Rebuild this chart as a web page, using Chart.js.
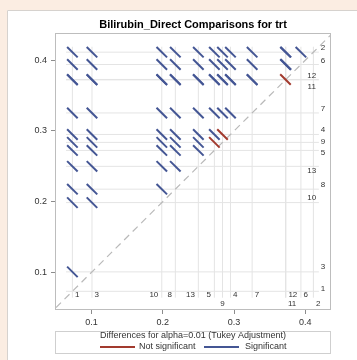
<!DOCTYPE html>
<html>
<head>
<meta charset="utf-8">
<script src="https://cdn.jsdelivr.net/npm/chart.js@4/dist/chart.umd.min.js"></script>
<style>
  html, body { margin: 0; padding: 0; background: #ffffff; }
  #wrap { width: 357px; height: 360px; }
  canvas { display: block; }
</style>
</head>
<body>
<div id="wrap"><canvas id="diffogram" width="357" height="360"></canvas></div>
<script>
// Treatment groups and their LS-means of Bilirubin_Direct
const groupNames = ['1', '2', '3', '4', '5', '6', '7', '8', '9', '10', '11', '12', '13'];
const lsMeans    = [0.0730, 0.4113, 0.1005, 0.2949, 0.2723, 0.3938, 0.3253, 0.2175, 0.2837, 0.1985, 0.3721, 0.3727, 0.2498];

// Half width of the Tukey-adjusted confidence interval for a difference
const diffCIHalfWidth = 0.0148;

// Pairs whose difference is not significant at alpha = 0.01
const notSignificantPairs = [['5', '9'], ['9', '4'], ['11', '12']];

// Axis tick values
const xTickValues = [0.1, 0.2, 0.3, 0.4];
const yTickValues = [0.1, 0.2, 0.3, 0.4];

const chartTitle = 'Bilirubin_Direct Comparisons for trt';
const legendTitle = 'Differences for alpha=0.01 (Tukey Adjustment)';
const legendLabels = ['Not significant', 'Significant'];

// Placement of the group labels along the right and bottom edges
// right: [lane, vertical nudge in px]; bottom: [alignment, row]
const rightLabelPlacement = {
  '2': [0, -4], '6': [0, -4], '12': [1, -3.5], '11': [1, 6.5], '7': [0, -4.5],
  '4': [0, -4.5], '9': [0, -1], '5': [0, 2.5], '13': [1, 4.5], '8': [0, -4.5],
  '10': [1, -4.5], '3': [0, -5], '1': [0, -3]
};
const bottomLabelPlacement = {
  '1': ['left', 0], '3': ['left', 0], '10': ['right', 0], '8': ['right', 0],
  '13': ['right', 0], '5': ['right', 0], '9': ['center', 1], '4': ['left', 0],
  '7': ['left', 0], '12': ['left', 0], '11': ['left', 1], '6': ['left', 0], '2': ['left', 1]
};

const COLORS = {
  significant: '#445694',
  notSignificant: '#A23A2E',
  refLine: '#E4E4E4',
  diagonal: '#B9B9B9',
  frame: '#BDBDBD',
  text: '#333333'
};

const X_MIN = 0.05, X_MAX = 0.4346;
const Y_MIN = 0.048, Y_MAX = 0.437;
const REF_LO = 0.064, REF_HI = 0.419;

function isNotSignificant(a, b) {
  return notSignificantPairs.some(p => (p[0] === a && p[1] === b) || (p[0] === b && p[1] === a));
}

const datasets = [];

// Reference lines at every LS-mean, vertical and horizontal
lsMeans.forEach(m => {
  datasets.push({
    data: [{ x: m, y: REF_LO }, { x: m, y: REF_HI }],
    borderColor: COLORS.refLine, borderWidth: 1, pointRadius: 0, order: 3
  });
  datasets.push({
    data: [{ x: REF_LO, y: m }, { x: REF_HI, y: m }],
    borderColor: COLORS.refLine, borderWidth: 1, pointRadius: 0, order: 3
  });
});

// Line of equality
datasets.push({
  data: [{ x: X_MIN, y: X_MIN }, { x: Y_MAX - 0.002, y: Y_MAX - 0.002 }],
  borderColor: COLORS.diagonal, borderWidth: 1.2, borderDash: [7, 5], pointRadius: 0, order: 2
});

// One segment per pair, centred at (lower mean, higher mean), slope -1
const h = diffCIHalfWidth / 2;
for (let i = 0; i < groupNames.length; i++) {
  for (let j = i + 1; j < groupNames.length; j++) {
    const lo = lsMeans[i] <= lsMeans[j] ? i : j;
    const hi = lo === i ? j : i;
    const xc = lsMeans[lo], yc = lsMeans[hi];
    const ns = isNotSignificant(groupNames[i], groupNames[j]);
    datasets.push({
      data: [{ x: xc - h, y: yc + h }, { x: xc + h, y: yc - h }],
      borderColor: ns ? COLORS.notSignificant : COLORS.significant,
      borderWidth: 2, pointRadius: 0, order: 1
    });
  }
}

const FONT = '"Liberation Sans", Arial, sans-serif';

const decorations = {
  id: 'decorations',
  beforeDraw(chart) {
    const ctx = chart.ctx;
    ctx.save();
    ctx.fillStyle = '#FBEDE2';
    ctx.fillRect(0, 0, chart.width, chart.height);
    ctx.fillStyle = '#ffffff';
    ctx.fillRect(7, 10, chart.width - 7, chart.height - 10);
    ctx.strokeStyle = '#D6D2CE';
    ctx.lineWidth = 1;
    ctx.beginPath();
    ctx.moveTo(7.5, chart.height);
    ctx.lineTo(7.5, 10.5);
    ctx.lineTo(chart.width, 10.5);
    ctx.stroke();
    ctx.restore();
  },
  afterDraw(chart) {
    const ctx = chart.ctx;
    const a = chart.chartArea;
    const xs = chart.scales.x, ys = chart.scales.y;
    ctx.save();

    // plot frame
    ctx.strokeStyle = COLORS.frame;
    ctx.lineWidth = 1;
    ctx.strokeRect(Math.round(a.left) - 0.5, Math.round(a.top) - 0.5,
                   Math.round(a.right - a.left) + 1, Math.round(a.bottom - a.top) + 1);

    // group labels
    ctx.fillStyle = COLORS.text;
    ctx.font = '8px ' + FONT;
    ctx.textBaseline = 'middle';
    groupNames.forEach((g, k) => {
      const [lane, dy] = rightLabelPlacement[g];
      ctx.textAlign = 'center';
      ctx.fillText(g, a.right - (lane === 0 ? 7 : 18.3), ys.getPixelForValue(lsMeans[k]) + dy);
      const [align, row] = bottomLabelPlacement[g];
      const px = xs.getPixelForValue(lsMeans[k]);
      ctx.textAlign = align;
      const bx = align === 'left' ? px + 2.5 : align === 'right' ? px - 3.5 : px;
      ctx.fillText(g, bx, a.bottom - (row === 0 ? 14.7 : 5.7));
    });

    // title
    ctx.fillStyle = '#000000';
    ctx.font = 'bold 11px ' + FONT;
    ctx.textAlign = 'center';
    ctx.fillText(chartTitle, (a.left + a.right) / 2, 25);

    // legend
    const ly = 331;
    ctx.strokeStyle = '#CFCFCF';
    ctx.strokeRect(Math.round(a.left) - 0.5, ly + 0.5, Math.round(a.right - a.left) + 1, 22);
    ctx.fillStyle = COLORS.text;
    ctx.font = '9px ' + FONT;
    ctx.fillText(legendTitle, (a.left + a.right) / 2, ly + 4.5);
    const ey = ly + 16;
    ctx.lineWidth = 2;
    ctx.strokeStyle = COLORS.notSignificant;
    ctx.beginPath(); ctx.moveTo(100, ey); ctx.lineTo(135, ey); ctx.stroke();
    ctx.strokeStyle = COLORS.significant;
    ctx.beginPath(); ctx.moveTo(204, ey); ctx.lineTo(239, ey); ctx.stroke();
    ctx.textAlign = 'left';
    ctx.fillText(legendLabels[0], 139, ey);
    ctx.fillText(legendLabels[1], 245, ey);
    ctx.restore();
  }
};

const axisCommon = {
  type: 'linear',
  grid: { display: true, drawOnChartArea: false, drawTicks: true, tickLength: 5, color: '#8C8C8C' },
  border: { display: false },
  ticks: {
    color: COLORS.text,
    font: { family: FONT, size: 9 },
    padding: 3,
    callback: v => v.toFixed(1)
  }
};

new Chart(document.getElementById('diffogram'), {
  type: 'line',
  data: { datasets },
  options: {
    responsive: false,
    devicePixelRatio: 1,
    animation: false,
    parsing: false,
    layout: { padding: { left: 0, top: 34, right: 27, bottom: 31 } },
    plugins: { legend: { display: false }, tooltip: { enabled: false }, title: { display: false } },
    elements: { line: { tension: 0, borderCapStyle: 'butt' } },
    scales: {
      x: Object.assign({}, axisCommon, {
        min: X_MIN, max: X_MAX,
        afterBuildTicks: s => { s.ticks = xTickValues.map(v => ({ value: v })); },
        afterFit: s => { s.height = 20; }
      }),
      y: Object.assign({}, axisCommon, {
        min: Y_MIN, max: Y_MAX,
        ticks: Object.assign({}, axisCommon.ticks, { padding: 4 }),
        afterBuildTicks: s => { s.ticks = yTickValues.map(v => ({ value: v })); },
        afterFit: s => { s.width = 56; }
      })
    }
  },
  plugins: [decorations]
});
</script>
</body>
</html>
